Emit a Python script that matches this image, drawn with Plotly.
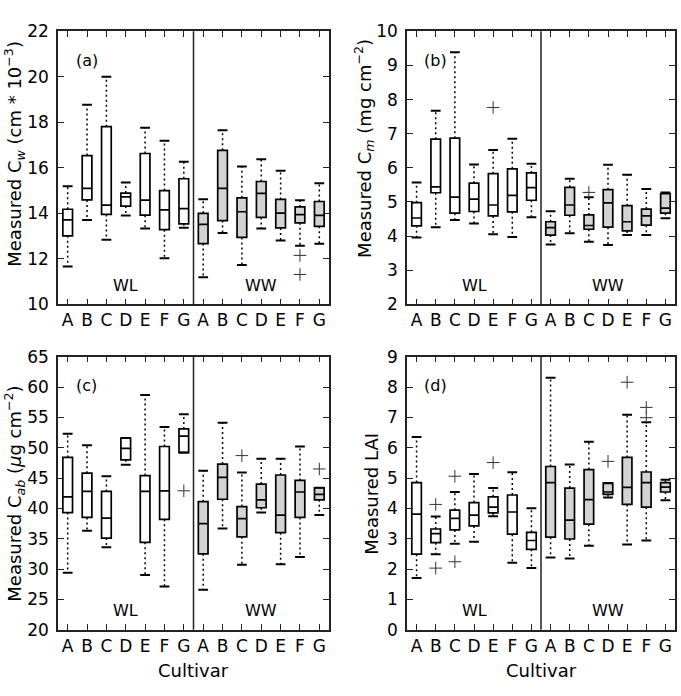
import plotly.graph_objects as go

cultivars = ["A", "B", "C", "D", "E", "F", "G"]
treatments = ["WL", "WW"]
panel_tags = ["(a)", "(b)", "(c)", "(d)"]

# Panel (a) Cw
cw_low = [11.66, 13.71, 12.84, 13.90, 13.33, 12.02, 13.37, 11.19, 13.13, 11.73, 13.33, 12.80, 12.57, 12.66]
cw_q1 = [13.01, 14.59, 13.95, 14.32, 13.92, 13.28, 13.54, 12.67, 13.68, 12.94, 13.82, 13.36, 13.58, 13.43]
cw_med = [13.71, 15.10, 14.36, 14.72, 14.58, 14.15, 14.21, 13.51, 15.10, 14.07, 14.88, 14.01, 13.94, 13.91]
cw_q3 = [14.18, 16.54, 17.81, 14.89, 16.63, 15.00, 15.52, 14.00, 16.77, 14.68, 15.40, 14.61, 14.28, 14.52]
cw_high = [15.19, 18.77, 20.00, 15.36, 17.76, 17.19, 16.27, 14.62, 17.65, 16.06, 16.38, 15.87, 14.58, 15.32]
cw_out_idx = [12, 12]
cw_out_val = [12.15, 11.31]

# Panel (b) Cm
cm_low = [3.96, 4.26, 4.47, 4.37, 4.05, 3.97, 4.55, 3.75, 4.08, 3.83, 3.74, 4.03, 4.03, 4.52]
cm_q1 = [4.30, 5.27, 4.67, 4.72, 4.59, 4.71, 5.05, 4.03, 4.61, 4.20, 4.26, 4.15, 4.32, 4.67]
cm_med = [4.53, 5.44, 5.14, 5.08, 4.91, 5.19, 5.42, 4.25, 4.91, 4.31, 4.97, 4.42, 4.59, 4.82]
cm_q3 = [4.98, 6.84, 6.87, 5.55, 5.83, 5.97, 5.85, 4.42, 5.43, 4.62, 5.36, 4.89, 4.79, 5.24]
cm_high = [5.57, 7.67, 9.39, 6.10, 6.52, 6.85, 6.12, 4.73, 5.68, 5.14, 6.09, 5.80, 5.38, 5.28]
cm_out_idx = [4, 9]
cm_out_val = [7.77, 5.28]

# Panel (c) Cab
cab_low = [29.4, 36.3, 33.6, 47.2, 29.0, 27.1, 49.2, 26.6, 36.7, 30.7, 39.3, 30.8, 32.0, 38.9]
cab_q1 = [39.3, 38.5, 35.1, 48.0, 34.4, 38.2, 49.2, 32.5, 41.5, 35.3, 40.1, 36.0, 38.5, 41.4]
cab_med = [41.9, 42.8, 38.4, 49.9, 42.8, 42.9, 51.9, 37.5, 45.1, 38.3, 41.4, 38.9, 42.7, 42.3]
cab_q3 = [48.4, 45.8, 42.8, 51.6, 45.4, 50.2, 53.1, 41.1, 47.3, 40.3, 44.0, 45.5, 44.6, 43.4]
cab_high = [52.3, 50.4, 45.3, 51.6, 58.7, 53.4, 55.5, 46.2, 54.1, 45.9, 48.2, 48.2, 50.2, 43.4]
cab_out_idx = [6, 9, 13]
cab_out_val = [42.9, 48.7, 46.5]

# Panel (d) LAI
lai_low = [1.70, 2.49, 2.83, 2.90, 3.74, 2.21, 2.03, 2.38, 2.35, 2.77, 4.36, 2.81, 2.94, 4.27]
lai_q1 = [2.49, 2.87, 3.29, 3.42, 3.85, 3.15, 2.65, 3.05, 2.99, 3.48, 4.46, 4.13, 4.04, 4.54]
lai_med = [3.81, 3.17, 3.67, 3.78, 4.04, 3.88, 2.94, 4.85, 3.61, 4.29, 4.54, 4.69, 4.85, 4.70]
lai_q3 = [4.85, 3.32, 3.94, 4.19, 4.38, 4.44, 3.21, 5.38, 4.67, 5.28, 4.83, 5.68, 5.20, 4.85]
lai_high = [6.35, 3.73, 4.54, 5.13, 4.67, 5.19, 4.00, 8.31, 5.45, 6.20, 4.83, 7.09, 6.84, 4.94]
lai_out_idx = [1, 1, 2, 2, 4, 10, 11, 12, 12]
lai_out_val = [4.13, 2.03, 5.06, 2.24, 5.51, 5.55, 8.16, 7.33, 6.99]

y_titles = [
    "Measured C<sub><i>w</i></sub> (cm * 10<sup>−3</sup>)",
    "Measured C<sub><i>m</i></sub> (mg cm<sup>−2</sup>)",
    "Measured C<sub><i>ab</i></sub> (<i>μ</i>g cm<sup>−2</sup>)",
    "Measured LAI",
]
y_ranges = [[10, 22], [2, 10], [20, 65], [0, 9]]
y_dticks = [2, 1, 5, 1]

panels = [
    (cw_low, cw_q1, cw_med, cw_q3, cw_high, cw_out_idx, cw_out_val),
    (cm_low, cm_q1, cm_med, cm_q3, cm_high, cm_out_idx, cm_out_val),
    (cab_low, cab_q1, cab_med, cab_q3, cab_high, cab_out_idx, cab_out_val),
    (lai_low, lai_q1, lai_med, lai_q3, lai_high, lai_out_idx, lai_out_val),
]

W, H = 681, 696
# pixel boxes of each plot area: (left, right, top, bottom)
areas = [(58, 329, 22, 303), (407, 675, 22, 303), (58, 329, 357, 638), (407, 675, 357, 638)]
ytitle_pos = [(14, 148), (364, 143), (14, 498), (372, 498)]

FONT = "DejaVu Sans"
labels = cultivars * len(treatments)
positions = list(range(1, len(labels) + 1))
fills = ["white", "#d3d3d3"]

fig = go.Figure()
layout = dict(
    width=W, height=H, margin=dict(l=0, r=0, t=0, b=0),
    paper_bgcolor="white", plot_bgcolor="white",
    showlegend=False, boxmode="overlay",
    font=dict(family=FONT, size=17, color="black"),
)
annotations = []
shapes = []

for k, (low, q1, med, q3, high, oi, ov) in enumerate(panels):
    n = k + 1
    xr = "x" if n == 1 else f"x{n}"
    yr = "y" if n == 1 else f"y{n}"
    xname = "xaxis" if n == 1 else f"xaxis{n}"
    yname = "yaxis" if n == 1 else f"yaxis{n}"
    l, r, t, b = areas[k]

    # dotted whiskers
    wx, wy = [], []
    for i, p in enumerate(positions):
        wx += [p, p, None, p, p, None]
        wy += [q3[i], high[i], None, q1[i], low[i], None]
    fig.add_trace(go.Scatter(x=wx, y=wy, mode="lines", xaxis=xr, yaxis=yr,
                             line=dict(color="black", width=1.5, dash="2px,3px"),
                             hoverinfo="skip"))
    # caps
    fig.add_trace(go.Scatter(x=positions + positions, y=high + low, mode="markers",
                             xaxis=xr, yaxis=yr,
                             marker=dict(symbol="line-ew", size=7, color="black",
                                         line=dict(color="black", width=2)),
                             hoverinfo="skip"))
    # boxes per treatment
    nc = len(cultivars)
    for g in range(len(treatments)):
        sl = slice(g * nc, (g + 1) * nc)
        fig.add_trace(go.Box(
            x=positions[sl], q1=q1[sl], median=med[sl], q3=q3[sl],
            lowerfence=q1[sl], upperfence=q3[sl], width=0.5,
            fillcolor=fills[g], line=dict(color="black", width=1.7),
            boxpoints=False, whiskerwidth=0, xaxis=xr, yaxis=yr, hoverinfo="skip"))
    # outliers
    fig.add_trace(go.Scatter(x=[positions[i] for i in oi], y=ov, mode="markers",
                             xaxis=xr, yaxis=yr,
                             marker=dict(symbol="cross-thin", size=9, color="#333",
                                         line=dict(color="#333", width=1)),
                             hoverinfo="skip"))

    layout[xname] = dict(
        domain=[l / W, r / W], anchor=yr, range=[0.5, len(labels) + 0.5],
        tickvals=positions, ticktext=labels, ticks="inside", ticklen=6,
        tickwidth=1, tickcolor="#222", showline=True, linecolor="#222", linewidth=1.5,
        mirror="ticks", showgrid=False, zeroline=False,
        tickfont=dict(family=FONT, size=17, color="black"),
    )
    layout[yname] = dict(
        domain=[(H - b) / H, (H - t) / H], anchor=xr, range=y_ranges[k],
        dtick=y_dticks[k], ticks="inside", ticklen=6, tickwidth=1, tickcolor="#222",
        showline=True, linecolor="#222", linewidth=1.5, mirror="ticks",
        showgrid=False, zeroline=False, ticklabelstandoff=4,
        tickfont=dict(family=FONT, size=17, color="black"),
    )
    # separator between treatments
    shapes.append(dict(type="line", xref=xr, yref=f"{yr} domain",
                       x0=nc + 0.5, x1=nc + 0.5, y0=0, y1=1,
                       line=dict(color="#222", width=1.5)))
    # treatment labels
    for g, tr in enumerate(treatments):
        annotations.append(dict(text=tr, xref=xr, yref=f"{yr} domain",
                                x=g * nc + (nc + 1) / 2, y=0.07, showarrow=False,
                                xanchor="center", yanchor="middle",
                                font=dict(family=FONT, size=16, color="black")))
    # panel tag
    annotations.append(dict(text=panel_tags[k], xref=f"{xr} domain", yref=f"{yr} domain",
                            x=0.107, y=0.893, showarrow=False,
                            xanchor="center", yanchor="middle",
                            font=dict(family=FONT, size=16, color="black")))
    # y title
    px, py = ytitle_pos[k]
    annotations.append(dict(text=y_titles[k], xref="paper", yref="paper",
                            x=px / W, y=(H - py) / H, textangle=-90, showarrow=False,
                            xanchor="center", yanchor="middle",
                            font=dict(family=FONT, size=18, color="black")))
    if k >= 2:
        annotations.append(dict(text="Cultivar", xref="paper", yref="paper",
                                x=((l + r) / 2) / W, y=(H - 680) / H, showarrow=False,
                                xanchor="center", yanchor="middle",
                                font=dict(family=FONT, size=18, color="black")))

layout["annotations"] = annotations
layout["shapes"] = shapes
fig.update_layout(**layout)
fig.write_html("out.html")
